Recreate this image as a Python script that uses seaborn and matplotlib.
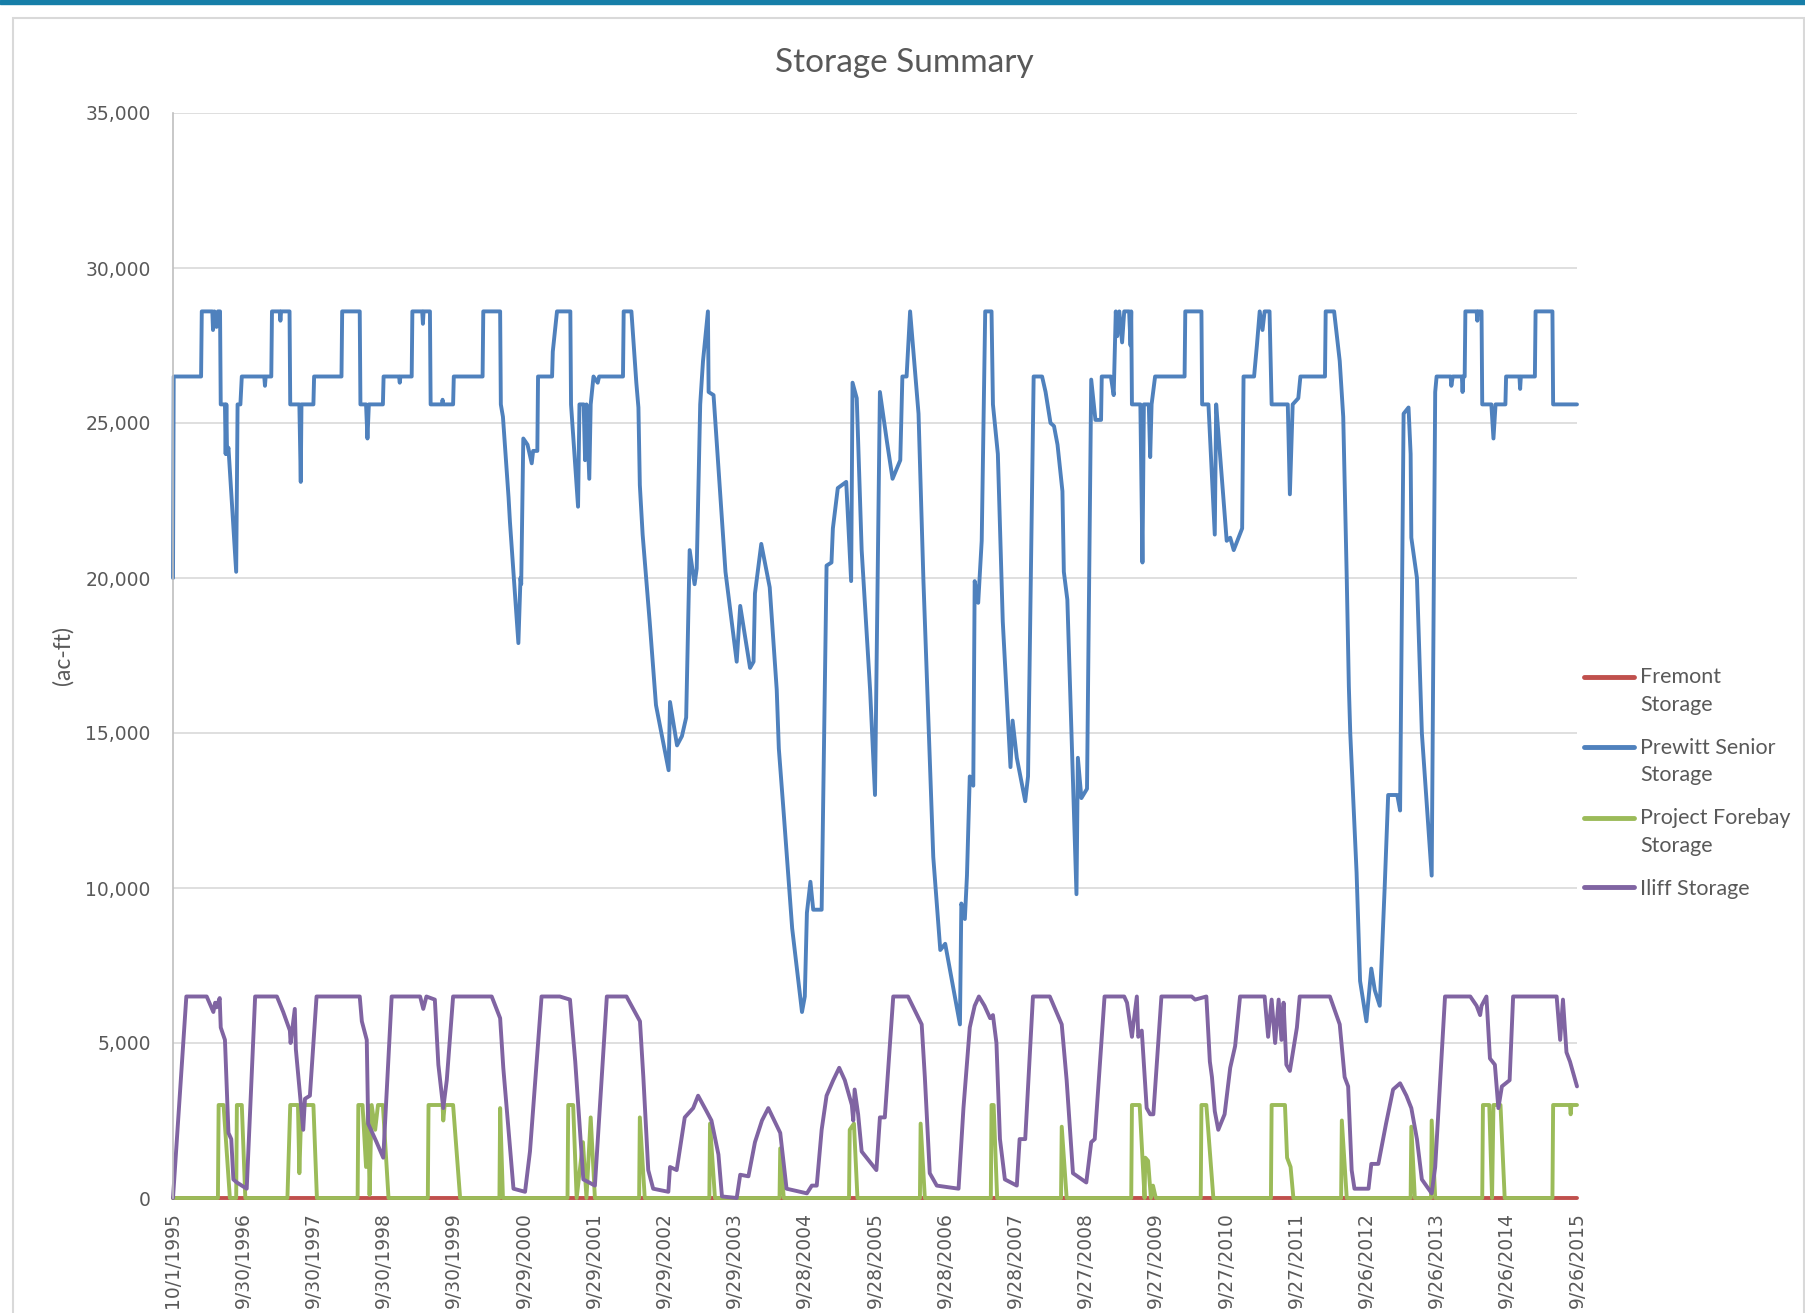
import numpy as np
import pandas as pd
import seaborn as sns
import matplotlib.pyplot as plt
from matplotlib.lines import Line2D
from matplotlib.patches import Rectangle
from matplotlib.ticker import FuncFormatter
from matplotlib.legend_handler import HandlerLine2D

# x is in years after 10/1/1995 (one category tick every 365 days)
x_labels = ["10/1/1995", "9/30/1996", "9/30/1997", "9/30/1998", "9/30/1999",
            "9/29/2000", "9/29/2001", "9/29/2002", "9/29/2003", "9/28/2004",
            "9/28/2005", "9/28/2006", "9/28/2007", "9/27/2008", "9/27/2009",
            "9/27/2010", "9/27/2011", "9/26/2012", "9/26/2013", "9/26/2014",
            "9/26/2015"]

fremont_t = [0.0, 20.0]
fremont_v = [0, 0]

prewitt_t = [0.00, 0.01, 0.40, 0.41, 0.56, 0.57, 0.59, 0.62, 0.64, 0.67, 0.68, 0.74, 0.75, 0.76,
             0.77, 0.79, 0.90, 0.92, 0.96, 0.98, 1.30, 1.31, 1.32, 1.40, 1.41, 1.52, 1.53, 1.54,
             1.66, 1.67, 1.80, 1.82, 1.83, 2.00, 2.01, 2.40, 2.41, 2.66, 2.67, 2.75, 2.77, 2.79,
             2.99, 3.00, 3.22, 3.23, 3.24, 3.40, 3.41, 3.55, 3.56, 3.57, 3.66, 3.67, 3.83, 3.84,
             3.85, 3.99, 4.00, 4.41, 4.42, 4.66, 4.67, 4.70, 4.78, 4.80, 4.92, 4.95, 4.96, 4.99,
             5.05, 5.11, 5.13, 5.19, 5.20, 5.40, 5.41, 5.47, 5.66, 5.67, 5.77, 5.79, 5.85, 5.87,
             5.89, 5.93, 5.95, 5.99, 6.05, 6.07, 6.41, 6.42, 6.53, 6.60, 6.63, 6.65, 6.69, 6.79,
             6.88, 7.06, 7.08, 7.18, 7.25, 7.31, 7.36, 7.43, 7.46, 7.51, 7.55, 7.62, 7.63, 7.70,
             7.87, 8.03, 8.08, 8.22, 8.27, 8.29, 8.38, 8.50, 8.60, 8.63, 8.70, 8.82, 8.96, 9.00,
             9.03, 9.08, 9.12, 9.24, 9.31, 9.38, 9.40, 9.47, 9.59, 9.66, 9.68, 9.74, 9.81, 9.93,
             10.00, 10.07, 10.17, 10.25, 10.36, 10.39, 10.45, 10.50, 10.62, 10.69, 10.83, 10.93,
             11.00, 11.21, 11.23, 11.28, 11.31, 11.35, 11.40, 11.42, 11.47, 11.52, 11.57, 11.66,
             11.68, 11.75, 11.82, 11.93, 11.96, 12.02, 12.14, 12.18, 12.26, 12.38, 12.43, 12.50,
             12.55, 12.60, 12.67, 12.69, 12.74, 12.87, 12.89, 12.94, 13.02, 13.08, 13.14, 13.22,
             13.23, 13.36, 13.40, 13.43, 13.45, 13.48, 13.52, 13.55, 13.62, 13.64, 13.65, 13.66,
             13.78, 13.81, 13.83, 13.90, 13.92, 13.94, 13.99, 14.41, 14.42, 14.65, 14.66, 14.75,
             14.84, 14.86, 14.87, 15.01, 15.06, 15.11, 15.23, 15.25, 15.40, 15.44, 15.48, 15.52,
             15.55, 15.62, 15.65, 15.88, 15.91, 15.95, 16.03, 16.06, 16.41, 16.42, 16.54, 16.62,
             16.67, 16.72, 16.75, 16.77, 16.86, 16.91, 17.00, 17.07, 17.12, 17.19, 17.26, 17.31,
             17.44, 17.48, 17.53, 17.60, 17.63, 17.64, 17.72, 17.79, 17.93, 17.98, 18.00, 18.20,
             18.21, 18.23, 18.36, 18.37, 18.38, 18.40, 18.41, 18.57, 18.58, 18.59, 18.64, 18.65,
             18.78, 18.81, 18.84, 18.98, 18.99, 19.18, 19.19, 19.20, 19.40, 19.41, 19.65, 19.66,
             20.00]
prewitt_v = [20000, 26500, 26500, 28600, 28600, 28000, 28600, 28100, 28600, 28600, 25600, 25600,
             24000, 25600, 24000, 24200, 20200, 25600, 25600, 26500, 26500, 26200, 26500, 26500,
             28600, 28600, 28300, 28600, 28600, 25600, 25600, 23100, 25600, 25600, 26500, 26500,
             28600, 28600, 25600, 25600, 24500, 25600, 25600, 26500, 26500, 26300, 26500, 26500,
             28600, 28600, 28200, 28600, 28600, 25600, 25600, 25750, 25600, 25600, 26500, 26500,
             28600, 28600, 25600, 25200, 22600, 21800, 17900, 20000, 19800, 24500, 24300, 23700,
             24100, 24100, 26500, 26500, 27300, 28600, 28600, 25600, 22300, 25600, 25600, 23800,
             25600, 23200, 25600, 26500, 26300, 26500, 26500, 28600, 28600, 26300, 25500, 23000,
             21400, 18600, 15900, 13800, 16000, 14600, 14900, 15500, 20900, 19800, 20300, 25600,
             27000, 28600, 26000, 25900, 20200, 17300, 19100, 17100, 17300, 19500, 21100, 19700,
             16400, 14500, 12400, 8700, 6000, 6500, 9200, 10200, 9300, 9300, 20400, 20500, 21600,
             22900, 23100, 19900, 26300, 25800, 20900, 16400, 13000, 26000, 24400, 23200, 23800,
             26500, 26500, 28600, 25300, 19900, 11000, 8000, 8200, 5600, 9500, 9000, 10400, 13600,
             13300, 19900, 19200, 21200, 28600, 28600, 25600, 24000, 18600, 13900, 15400, 14200,
             12800, 13600, 26500, 26500, 26000, 25000, 24900, 24300, 22800, 20200, 19300, 9800,
             14200, 12900, 13200, 26400, 25100, 25100, 26500, 26500, 25900, 28600, 27800, 28600,
             27600, 28600, 28600, 27500, 28600, 25600, 25600, 20500, 25600, 25600, 23900, 25600,
             26500, 26500, 28600, 28600, 25600, 25600, 21400, 25600, 25300, 21200, 21300, 20900,
             21600, 26500, 26500, 27500, 28600, 28000, 28600, 28600, 25600, 25600, 22700, 25600,
             25800, 26500, 26500, 28600, 28600, 27000, 25200, 20000, 16500, 15000, 10500, 7000,
             5700, 7400, 6700, 6200, 10000, 13000, 13000, 12500, 25300, 25500, 24000, 21300,
             20000, 15000, 10400, 26000, 26500, 26500, 26200, 26500, 26500, 26000, 26500, 26500,
             28600, 28600, 28300, 28600, 28600, 25600, 25600, 24500, 25600, 25600, 26500, 26500,
             26100, 26500, 26500, 28600, 28600, 25600, 25600]

forebay_t = [0.00, 0.64, 0.65, 0.72, 0.81, 0.90, 0.91, 0.98, 1.03, 1.63, 1.67, 1.78, 1.80, 1.83,
             2.00, 2.05, 2.63, 2.64, 2.70, 2.75, 2.78, 2.80, 2.83, 2.88, 2.92, 2.99, 3.07, 3.63,
             3.64, 3.84, 3.85, 3.87, 3.99, 4.09, 4.65, 4.66, 4.70, 5.62, 5.63, 5.70, 5.75, 5.84,
             5.89, 5.95, 6.01, 6.64, 6.65, 6.72, 7.64, 7.65, 7.72, 8.64, 8.65, 8.70, 9.63, 9.64,
             9.70, 9.75, 10.64, 10.65, 10.71, 11.65, 11.66, 11.69, 11.74, 12.65, 12.66, 12.73,
             13.65, 13.66, 13.77, 13.84, 13.85, 13.89, 13.93, 13.96, 14.00, 14.64, 14.65, 14.72,
             14.82, 15.64, 15.65, 15.84, 15.87, 15.92, 15.96, 16.64, 16.65, 16.72, 17.63, 17.64,
             17.69, 17.92, 17.93, 17.98, 18.65, 18.66, 18.75, 18.79, 18.81, 18.91, 18.97, 19.65,
             19.66, 19.90, 19.91, 19.92, 20.00]
forebay_v = [0, 0, 3000, 3000, 0, 0, 3000, 3000, 0, 0, 3000, 3000, 800, 3000,
             3000, 0, 0, 3000, 3000, 1000, 3000, 100, 3000, 2200, 3000, 3000, 0, 0,
             3000, 3000, 2500, 3000, 3000, 0, 0, 2900, 0, 0, 3000, 3000, 0, 1800,
             0, 2600, 0, 0, 2600, 0, 0, 2400, 0, 0, 1600, 0, 0, 2200,
             2400, 0, 0, 2400, 0, 0, 3000, 3000, 0, 0, 2300, 0,
             0, 3000, 3000, 0, 1300, 1200, 0, 400, 0, 0, 3000, 3000,
             0, 0, 3000, 3000, 1300, 1000, 0, 0, 2500, 0, 0, 2300,
             0, 0, 2500, 0, 0, 3000, 3000, 0, 3000, 3000, 0, 0,
             3000, 3000, 2700, 3000, 3000]

iliff_t = [0.00, 0.19, 0.48, 0.575, 0.60, 0.62, 0.665, 0.68, 0.74, 0.79, 0.83, 0.86, 0.91, 1.05,
           1.17, 1.48, 1.57, 1.665, 1.675, 1.735, 1.75, 1.81, 1.855, 1.88, 1.95, 2.045, 2.66,
           2.69, 2.76, 2.78, 2.90, 2.995, 3.115, 3.52, 3.565, 3.61, 3.73, 3.78, 3.85, 3.90, 3.99,
           4.54, 4.66, 4.705, 4.85, 5.015, 5.085, 5.25, 5.51, 5.655, 5.73, 5.845, 6.01, 6.18,
           6.46, 6.652, 6.70, 6.77, 6.84, 7.056, 7.08, 7.175, 7.29, 7.41, 7.48, 7.60, 7.67, 7.77,
           7.82, 8.03, 8.08, 8.197, 8.29, 8.39, 8.48, 8.65, 8.74, 9.03, 9.10, 9.17, 9.24, 9.31,
           9.405, 9.49, 9.57, 9.67, 9.69, 9.71, 9.76, 9.81, 10.02, 10.07, 10.14, 10.26, 10.47,
           10.665, 10.71, 10.78, 10.88, 11.19, 11.26, 11.35, 11.42, 11.48, 11.56, 11.64, 11.68,
           11.73, 11.78, 11.85, 12.02, 12.06, 12.14, 12.25, 12.49, 12.66, 12.73, 12.82, 13.01,
           13.08, 13.13, 13.27, 13.55, 13.59, 13.66, 13.68, 13.73, 13.75, 13.80, 13.87, 13.92,
           13.965, 14.08, 14.51, 14.56, 14.72, 14.77, 14.80, 14.84, 14.89, 14.98, 15.06, 15.13,
           15.20, 15.55, 15.60, 15.65, 15.70, 15.75, 15.79, 15.82, 15.86, 15.91, 16.01, 16.05,
           16.48, 16.62, 16.69, 16.74, 16.79, 16.83, 17.03, 17.07, 17.17, 17.28, 17.38, 17.48,
           17.57, 17.64, 17.72, 17.79, 17.93, 17.98, 18.12, 18.48, 18.57, 18.62, 18.64, 18.71,
           18.76, 18.83, 18.88, 18.93, 19.04, 19.09, 19.71, 19.76, 19.80, 19.85, 19.90, 20.00]
iliff_v = [0, 6500, 6500, 6000, 6300, 6150, 6450, 5500, 5100, 2100, 1900, 600, 500, 300,
           6500, 6500, 6000, 5400, 5000, 6100, 4800, 3300, 2200, 3200, 3300, 6500, 6500,
           5700, 5100, 2400, 1800, 1300, 6500, 6500, 6100, 6500, 6400, 4300, 2900, 3800, 6500,
           6500, 5800, 4200, 300, 200, 1500, 6500, 6500, 6400, 4400, 600, 400, 6500,
           6500, 5700, 3900, 900, 300, 200, 1000, 900, 2600, 2900, 3300, 2800, 2500, 1400,
           50, 0, 750, 700, 1800, 2500, 2900, 2100, 300, 150, 400, 400, 2200, 3300,
           3800, 4200, 3800, 3000, 2500, 3500, 2700, 1500, 900, 2600, 2600, 6500, 6500,
           5600, 3900, 800, 400, 300, 2900, 5500, 6200, 6500, 6200, 5800, 5900,
           5000, 1900, 600, 400, 1900, 1900, 6500, 6500, 5600, 3800, 800, 500,
           1800, 1900, 6500, 6500, 6300, 5200, 5600, 6500, 5200, 5400, 2900, 2700,
           2700, 6500, 6500, 6400, 6500, 4400, 3900, 2800, 2200, 2700, 4200, 4900,
           6500, 6500, 5200, 6400, 5000, 6400, 5100, 6300, 4300, 4100, 5500, 6500,
           6500, 5600, 3900, 3600, 900, 300, 300, 1100, 1100, 2400, 3500, 3700,
           3300, 2900, 1900, 600, 150, 1000, 6500, 6500, 6200, 5900, 6200, 6500,
           4500, 4300, 2900, 3600, 3800, 6500, 6500, 5100, 6400, 4700, 4400, 3600]

series_names = ["Fremont Storage", "Prewitt Senior Storage", "Project Forebay Storage", "Iliff Storage"]
legend_labels = ["Fremont\nStorage", "Prewitt Senior\nStorage", "Project Forebay\nStorage", "Iliff Storage"]
colors = ["#C0504D", "#4F81BD", "#9BBB59", "#8064A2"]

df = pd.concat([
    pd.DataFrame({"t": fremont_t, "value": fremont_v, "series": series_names[0]}),
    pd.DataFrame({"t": prewitt_t, "value": prewitt_v, "series": series_names[1]}),
    pd.DataFrame({"t": forebay_t, "value": forebay_v, "series": series_names[2]}),
    pd.DataFrame({"t": iliff_t, "value": iliff_v, "series": series_names[3]}),
], ignore_index=True)

sns.set_style("white")
plt.rcParams["font.family"] = ["DejaVu Sans"]
grey = "#595959"

fig = plt.figure(figsize=(18.06, 13.13), dpi=100)
W, H = 1806, 1313

# page decoration: blue strip at top and the card border
fig.patches.append(Rectangle((0, 1 - 4 / H), 1, 4 / H, transform=fig.transFigure,
                             color="#167EA8", zorder=0))
fig.patches.append(Rectangle((13 / W, -0.05), (1804 - 13) / W, 1 - 18 / H + 0.05,
                             transform=fig.transFigure, fill=False,
                             edgecolor="#D9D9D9", lw=1.5, zorder=0))

ax = fig.add_axes([173 / W, 1 - 1198 / H, 1404 / W, 1085 / H])

sns.lineplot(data=df, x="t", y="value", hue="series", hue_order=series_names,
             palette=colors, estimator=None, sort=False, linewidth=2.8,
             legend=False, ax=ax)
for ln in ax.lines:
    ln.set_clip_on(False)
    ln.set_solid_joinstyle("round")

ax.set_xlim(0, 20)
ax.set_ylim(0, 35000)
ax.set_yticks(range(0, 35001, 5000))
ax.yaxis.set_major_formatter(FuncFormatter(lambda v, p: f"{int(v):,}"))
ax.set_xticks(range(len(x_labels)))
ax.set_xticklabels(x_labels, rotation=90, va="top", ha="center")
ax.tick_params(axis="y", length=0, pad=16, labelsize=13.5, labelcolor=grey)
ax.tick_params(axis="x", length=0, pad=10, labelsize=13.5, labelcolor=grey)
ax.set_xlabel("")
ax.set_ylabel("(ac-ft)", fontsize=16.5, color=grey, family="Lato")
ax.yaxis.set_label_coords(-0.0705, 0.5)

ax.grid(axis="y", color="#D9D9D9", lw=1.2)
ax.set_axisbelow(True)
for s in ["top", "right", "bottom"]:
    ax.spines[s].set_visible(False)
ax.spines["left"].set_color("#BFBFBF")
ax.spines["left"].set_linewidth(1.2)

fig.text(0.501, 0.952, "Storage Summary", ha="center", va="center",
         fontsize=24, color=grey, family="Lato")


class TopLine(HandlerLine2D):
    # puts the legend line beside the first text row of a two-row label
    def __init__(self, shift=0.0, **kw):
        super().__init__(**kw)
        self.shift = shift

    def create_artists(self, legend, orig_handle, xdescent, ydescent, width, height,
                       fontsize, trans):
        arts = super().create_artists(legend, orig_handle, xdescent, ydescent, width,
                                      height, fontsize, trans)
        for a in arts:
            a.set_ydata(np.asarray(a.get_ydata()) + self.shift * fontsize)
        return arts


handles = [Line2D([], [], color=c, lw=3.5, solid_capstyle="round") for c in colors]
hmap = {h: TopLine(shift=(0.67 if "\n" in lab else 0.0)) for h, lab in zip(handles, legend_labels)}
leg = fig.legend(handles, legend_labels, loc="upper left",
                 bbox_to_anchor=(1584 / W, 1 - 667 / H), frameon=False,
                 prop={"family": "Lato", "size": 15.5}, labelcolor=grey,
                 handlelength=2.3, handletextpad=0.3, labelspacing=1.07,
                 borderpad=0, borderaxespad=0, handler_map=hmap)
for t in leg.get_texts():
    t.set_linespacing(1.47)

fig.savefig("out.png", dpi=100)
